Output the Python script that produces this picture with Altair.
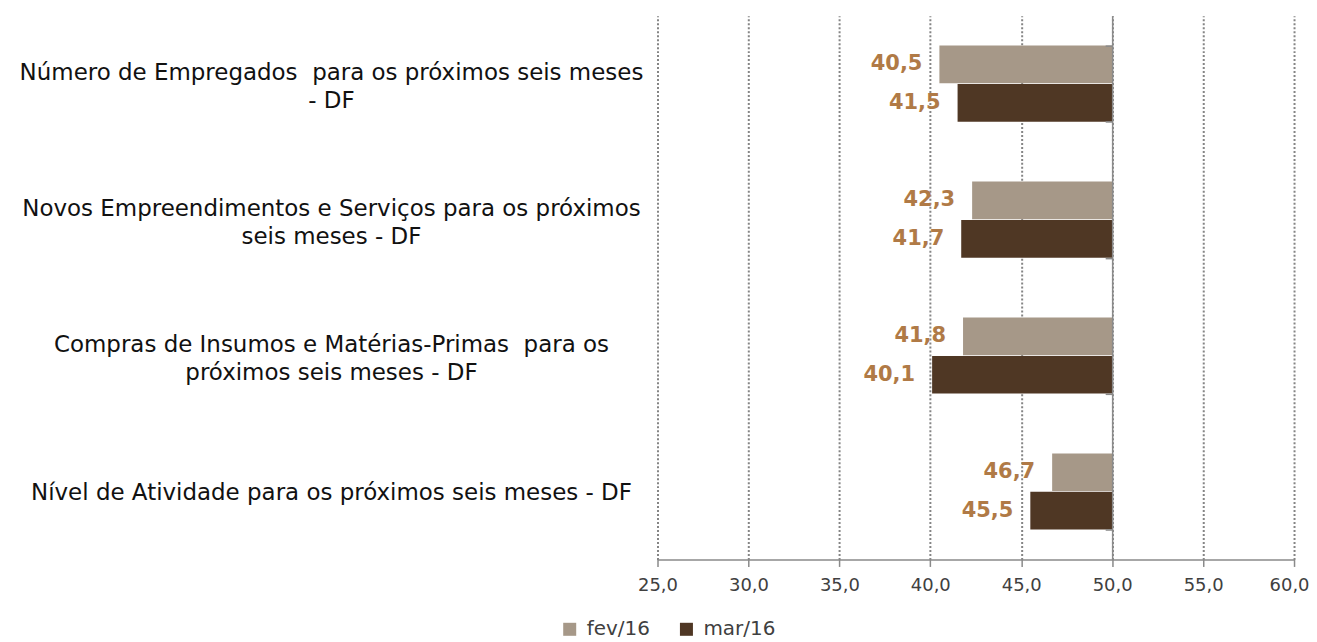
import altair as alt
import pandas as pd

categories = [
    "Número de Empregados\u00a0 para os próximos seis meses\n- DF",
    "Novos Empreendimentos e Serviços para os próximos\nseis meses - DF",
    "Compras de Insumos e Matérias-Primas\u00a0 para os\npróximos seis meses - DF",
    "Nível de Atividade para os próximos seis meses - DF",
]
series = ["fev/16", "mar/16"]
fev_values = [40.5, 42.3, 41.8, 46.7]
mar_values = [41.5, 41.7, 40.1, 45.5]
colors = ["#a69888", "#4f3724"]
x_ticks = [25, 30, 35, 40, 45, 50, 55, 60]

rows = []
for c, f, m in zip(categories, fev_values, mar_values):
    rows.append({"cat": c, "serie": "fev/16", "value": f})
    rows.append({"cat": c, "serie": "mar/16", "value": m})
df = pd.DataFrame(rows)
df["label"] = df["value"].map(lambda v: f"{v:.1f}".replace(".", ","))

W, H = 638, 545
FONT = "DejaVu Sans"

xscale = alt.Scale(domain=[25, 60], nice=False, zero=False)
yenc = alt.Y(
    "cat:N",
    sort=categories,
    scale=alt.Scale(paddingInner=0.44, paddingOuter=0.22),
    axis=alt.Axis(
        title=None,
        orient="left",
        offset=-W * 25 / 35,
        tickBand="extent",
        tickSize=7,
        tickColor="#8a8a8a",
        tickWidth=1.5,
        domainColor="#8a8a8a",
        domainWidth=1.5,
        labelAlign="center",
        labelPadding=776,
        labelOffset={
            "condition": {"test": "indexof(datum.label, '\\n') >= 0", "value": -11},
            "value": 1,
        },
        labelLimit=0,
        labelFont=FONT,
        labelFontSize=23,
        labelLineHeight=28,
        labelColor="#111111",
        labelExpr="split(datum.label, '\\n')",
        zindex=2,
    ),
)
yoff = alt.YOffset("serie:N", sort=series, scale=alt.Scale(paddingInner=0.02, paddingOuter=0))

bars = alt.Chart(df).mark_bar().encode(
    x=alt.X(
        "value:Q",
        scale=xscale,
        axis=alt.Axis(
            title=None,
            values=x_ticks,
            labelExpr="replace(format(datum.value, '.1f'), '.', ',')",
            labelFlush=False,
            labelOffset={
                "condition": {"test": "datum.value >= 59", "value": -5},
                "value": 0,
            },
            grid=True,
            gridDash=[2, 2],
            gridColor="#858585",
            gridWidth=2,
            domainColor="#8a8a8a",
            domainWidth=1.5,
            tickColor="#8a8a8a",
            tickSize=7,
            tickWidth=1.5,
            labelFont=FONT,
            labelFontSize=18,
            labelColor="#404040",
            labelPadding=10,
        ),
    ),
    x2=alt.datum(50),
    y=yenc,
    yOffset=yoff,
    color=alt.Color(
        "serie:N",
        sort=series,
        scale=alt.Scale(domain=series, range=colors),
        legend=alt.Legend(
            title=None,
            orient="none",
            legendX=-98,
            legendY=605,
            direction="horizontal",
            symbolType="square",
            symbolSize=170,
            symbolStrokeWidth=0,
            labelFont=FONT,
            labelFontSize=20,
            labelColor="#404040",
            labelOffset=7,
            columnPadding=26,
        ),
    ),
)

texts = alt.Chart(df).mark_text(
    align="right",
    baseline="middle",
    dx=-17,
    font=FONT,
    fontSize=21,
    fontWeight="bold",
    color="#b07a46",
).encode(
    x=alt.X("value:Q", scale=xscale),
    y=alt.Y("cat:N", sort=categories),
    yOffset=yoff,
    text="label:N",
)

chart = (
    alt.layer(bars, texts)
    .properties(
        width=W,
        height=H,
        autosize=alt.AutoSizeParams(type="none"),
        padding={"left": 651, "top": 7, "right": 15, "bottom": 80},
    )
    .configure_view(stroke=None)
)

chart.save("out.html", embed_options={"renderer": "svg", "actions": False})
